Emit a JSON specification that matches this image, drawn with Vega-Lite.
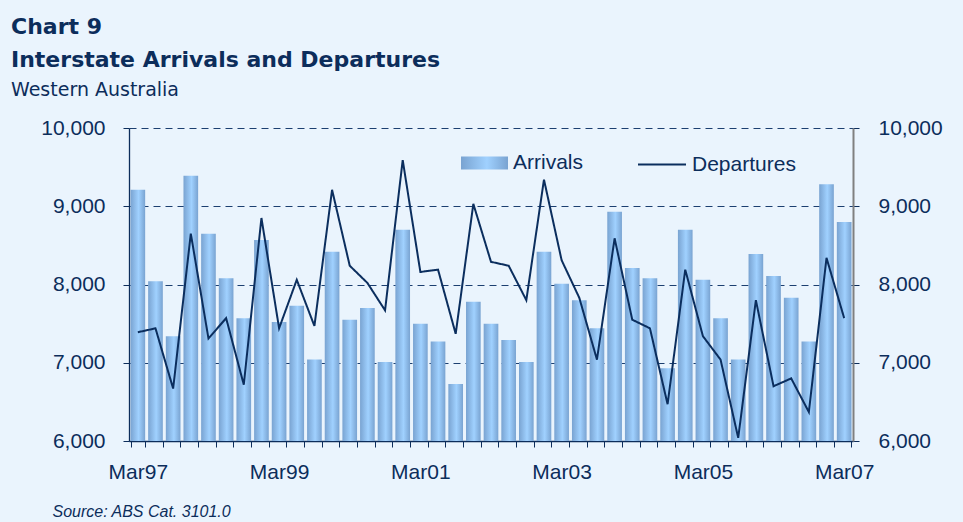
{
  "$schema": "https://vega.github.io/schema/vega-lite/v6.json",
  "width": 724,
  "height": 313,
  "autosize": "none",
  "padding": {"left": 129, "top": 128, "right": 110, "bottom": 81},
  "background": "#EAF4FD",
  "title": {
    "text": ["Chart 9", "Interstate Arrivals and Departures"],
    "subtitle": "Western Australia",
    "anchor": "start",
    "frame": "group",
    "dx": -118,
    "dy": 2,
    "font": "DejaVu Sans",
    "fontSize": 22,
    "fontWeight": "bold",
    "lineHeight": 33,
    "color": "#0C2D5B",
    "subtitleFont": "DejaVu Sans",
    "subtitleFontSize": 19,
    "subtitleColor": "#0C2D5B",
    "subtitlePadding": 9,
    "offset": 18
  },
  "data": {
    "values": [
      {"q": "Mar97", "arr": 9210, "dep": 7390},
      {"q": "Jun97", "arr": 8040, "dep": 7440},
      {"q": "Sep97", "arr": 7340, "dep": 6670},
      {"q": "Dec97", "arr": 9390, "dep": 8650},
      {"q": "Mar98", "arr": 8650, "dep": 7310},
      {"q": "Jun98", "arr": 8080, "dep": 7570},
      {"q": "Sep98", "arr": 7570, "dep": 6720},
      {"q": "Dec98", "arr": 8570, "dep": 8850},
      {"q": "Mar99", "arr": 7520, "dep": 7440},
      {"q": "Jun99", "arr": 7730, "dep": 8060},
      {"q": "Sep99", "arr": 7040, "dep": 7470},
      {"q": "Dec99", "arr": 8420, "dep": 9210},
      {"q": "Mar00", "arr": 7550, "dep": 8240},
      {"q": "Jun00", "arr": 7700, "dep": 8020},
      {"q": "Sep00", "arr": 7010, "dep": 7670},
      {"q": "Dec00", "arr": 8700, "dep": 9590},
      {"q": "Mar01", "arr": 7500, "dep": 8160},
      {"q": "Jun01", "arr": 7270, "dep": 8190},
      {"q": "Sep01", "arr": 6730, "dep": 7370},
      {"q": "Dec01", "arr": 7780, "dep": 9030},
      {"q": "Mar02", "arr": 7500, "dep": 8290},
      {"q": "Jun02", "arr": 7290, "dep": 8240},
      {"q": "Sep02", "arr": 7010, "dep": 7800},
      {"q": "Dec02", "arr": 8420, "dep": 9340},
      {"q": "Mar03", "arr": 8010, "dep": 8310},
      {"q": "Jun03", "arr": 7800, "dep": 7830},
      {"q": "Sep03", "arr": 7440, "dep": 7040},
      {"q": "Dec03", "arr": 8930, "dep": 8590},
      {"q": "Mar04", "arr": 8210, "dep": 7550},
      {"q": "Jun04", "arr": 8080, "dep": 7440},
      {"q": "Sep04", "arr": 6930, "dep": 6470},
      {"q": "Dec04", "arr": 8700, "dep": 8190},
      {"q": "Mar05", "arr": 8060, "dep": 7340},
      {"q": "Jun05", "arr": 7570, "dep": 7040},
      {"q": "Sep05", "arr": 7040, "dep": 6040},
      {"q": "Dec05", "arr": 8390, "dep": 7800},
      {"q": "Mar06", "arr": 8110, "dep": 6700},
      {"q": "Jun06", "arr": 7830, "dep": 6800},
      {"q": "Sep06", "arr": 7270, "dep": 6370},
      {"q": "Dec06", "arr": 9280, "dep": 8340},
      {"q": "Mar07", "arr": 8800, "dep": 7570}
    ]
  },
  "encoding": {
    "x": {
      "field": "q",
      "type": "ordinal",
      "sort": null,
      "scale": {"paddingInner": 0.17, "paddingOuter": 0.085},
      "axis": {
        "title": "Source: ABS Cat. 3101.0",
        "titleFont": "Liberation Sans",
        "titleFontStyle": "italic",
        "titleFontWeight": "normal",
        "titleFontSize": 16,
        "titleColor": "#0C2D5B",
        "titleAlign": "left",
        "titleAnchor": "start",
        "titleBaseline": "alphabetic",
        "titleX": -77,
        "titleY": 75,
        "labelExpr": "indexof(['Mar97','Mar99','Mar01','Mar03','Mar05','Mar07'], datum.value) >= 0 ? datum.value : ''",
        "labelAngle": 0,
        "labelOverlap": false,
        "labelBound": false,
        "labelFlush": false,
        "tickBand": "extent",
        "labelOffset": 0,
        "tickSize": 6,
        "labelPadding": 14,
        "labelFont": "Liberation Sans",
        "labelFontSize": 21,
        "labelColor": "#0C2D5B",
        "domainColor": "#0C2D5B",
        "domainWidth": 1.3,
        "tickColor": "#0C2D5B",
        "grid": false
      }
    }
  },
  "layer": [
    {
      "mark": {
        "type": "bar",
        "clip": true,
        "color": {
          "gradient": "linear",
          "x1": 0, "x2": 1, "y1": 0, "y2": 0,
          "stops": [
            {"offset": 0, "color": "#79A3D1"},
            {"offset": 0.55, "color": "#A0D1FF"},
            {"offset": 1, "color": "#79A3D1"}
          ]
        }
      },
      "encoding": {
        "y": {
          "field": "arr",
          "type": "quantitative",
          "scale": {"domain": [6000, 10000], "nice": false, "zero": false},
          "axis": {
            "orient": "left",
            "title": null,
            "values": [6000, 7000, 8000, 9000, 10000],
            "format": ",.0f",
            "grid": true,
            "gridDash": [7, 5],
            "gridColor": "#1C3F70",
            "gridWidth": 1,
            "domainColor": "#0C2D5B",
            "domainWidth": 1.3,
            "tickColor": "#0C2D5B",
            "tickSize": 6,
            "labelPadding": 18,
            "labelFont": "Liberation Sans",
            "labelFontSize": 21,
            "labelColor": "#0C2D5B"
          }
        },
        "opacity": {
          "datum": "Arrivals",
          "type": "nominal",
          "scale": {"domain": ["Arrivals"], "range": [1]},
          "legend": {
            "orient": "none",
            "legendX": 332,
            "legendY": 11.5,
            "title": null,
            "padding": 0,
            "labelFont": "Liberation Sans",
            "labelFontSize": 21,
            "labelColor": "#0C2D5B",
            "labelOffset": 5,
            "symbolType": "M-1,-0.28H1V0.28H-1Z",
            "symbolSize": 2209,
            "symbolStrokeWidth": 0
          }
        }
      }
    },
    {
      "mark": {"type": "line", "color": "#0B2E5E", "strokeWidth": 2},
      "encoding": {
        "y": {
          "field": "dep",
          "type": "quantitative",
          "scale": {"domain": [6000, 10000], "nice": false, "zero": false},
          "axis": {
            "orient": "right",
            "title": null,
            "values": [6000, 7000, 8000, 9000, 10000],
            "format": ",.0f",
            "grid": false,
            "domainColor": "#808080",
            "domainWidth": 2,
            "tickColor": "#0C2D5B",
            "tickSize": 6,
            "labelPadding": 19,
            "labelFont": "Liberation Sans",
            "labelFontSize": 21,
            "labelColor": "#0C2D5B"
          }
        },
        "strokeDash": {
          "datum": "Departures",
          "type": "nominal",
          "scale": {"domain": ["Departures"], "range": [[1, 0]]},
          "legend": {
            "orient": "none",
            "legendX": 508,
            "legendY": 11.5,
            "title": null,
            "padding": 0,
            "labelFont": "Liberation Sans",
            "labelFontSize": 21,
            "labelColor": "#0C2D5B",
            "labelOffset": 5,
            "symbolType": "M-1,0H1",
            "symbolSize": 2304,
            "symbolStrokeColor": "#0B2E5E",
            "symbolStrokeWidth": 2
          }
        }
      }
    }
  ],
  "resolve": {"scale": {"y": "independent"}},
  "config": {"view": {"stroke": null}}
}
